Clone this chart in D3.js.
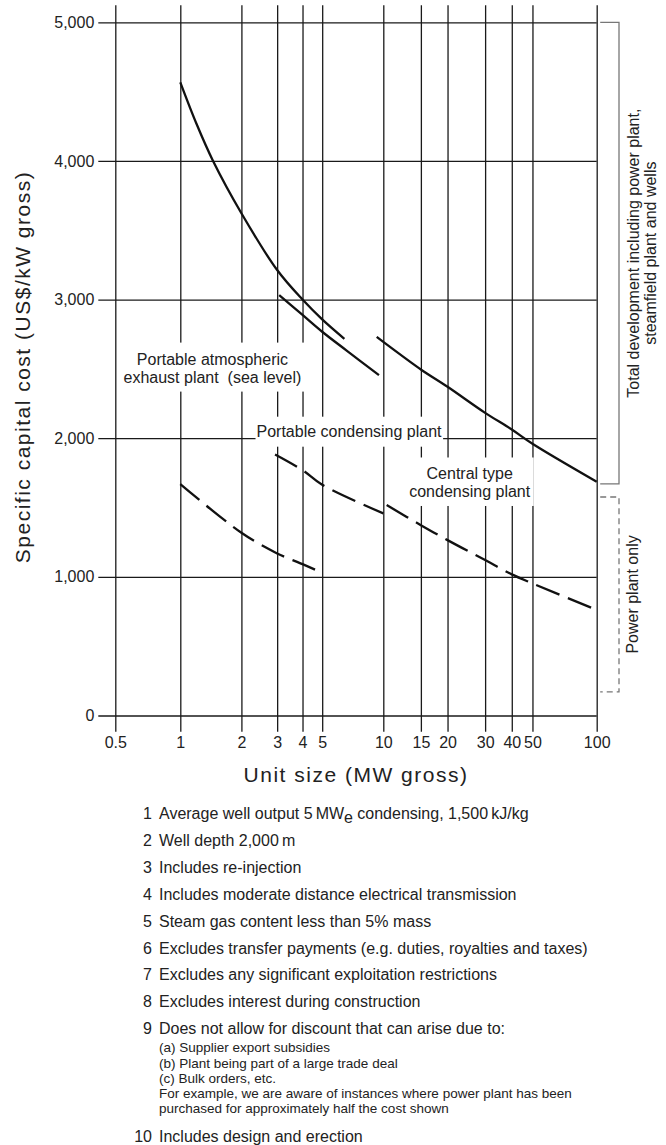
<!DOCTYPE html>
<html><head><meta charset="utf-8">
<script src="https://cdn.jsdelivr.net/npm/d3@7"></script>
<style>
body{margin:0;background:#fff}
svg{display:block}
text{font-family:"Liberation Sans",Arial,Helvetica,sans-serif;fill:#222}
</style>
</head><body>
<svg id="c" width="666" height="1145"></svg>
<script>
// ---------- data ----------
const xTicks = [0.5, 1, 2, 3, 4, 5, 10, 15, 20, 30, 40, 50, 100];
const yTicks = [0, 1000, 2000, 3000, 4000, 5000];

// solid = total development, dashed = power plant only  [MW, US$/kW]
const atmosTotal   = [[1,4567],[1.2,4270],[1.45,4000],[2,3623],[3,3213],[4,3000],[5,2857],[6.43,2717]];
const condTotal    = [[3.07,3032],[4,2889],[5,2768],[6.6,2632],[9.52,2455]];
const centralTotal = [[9.28,2731],[10,2695],[15,2496],[20,2371],[30,2183],[40,2063],[50,1960],[100,1686]];
const atmosPower   = [[1,1669],[2,1318],[3,1169],[4,1092],[4.61,1052]];
const condPower    = [[2.93,1883],[4,1770],[5,1664],[10,1458]];
const centralPower = [[10.37,1518],[15,1373],[20,1265],[30,1121],[40,1018],[50,953],[100,761]];

const curveLabels = [
  {x: 1.44, y: 2531, lines: ["Portable atmospheric", "exhaust plant  (sea level)"]},
  {x: 6.78, y: 2011, lines: ["Portable condensing plant"]},
  {x: 25.4, y: 1706, lines: ["Central type", "condensing plant"]}
];

const brackets = [
  {from: 5000, to: 1670, dashed: false, lines: ["Total development including power plant,", "steamfield plant and wells"]},
  {from: 1576, to: 170,  dashed: true,  lines: ["Power plant only"]}
];

const yTitle = "Specific capital cost (US$/kW gross)";
const xTitle = "Unit size (MW gross)";

const notes = [
  "Average well output 5\u2009MW_e condensing, 1,500\u2009kJ/kg",
  "Well depth 2,000\u2009m",
  "Includes re-injection",
  "Includes moderate distance electrical transmission",
  "Steam gas content less than 5% mass",
  "Excludes transfer payments (e.g. duties, royalties and taxes)",
  "Excludes any significant exploitation restrictions",
  "Excludes interest during construction",
  "Does not allow for discount that can arise due to:",
  "Includes design and erection"
];
const subNotes = [
  "(a) Supplier export subsidies",
  "(b) Plant being part of a large trade deal",
  "(c) Bulk orders, etc.",
  "For example, we are aware of instances where power plant has been",
  "purchased for approximately half the cost shown"
];

// ---------- scales ----------
const svg = d3.select("#c");
const x = d3.scaleLog().domain([0.5, 1, 10, 100]).range([115.3, 180.3, 383.3, 596.7]);
const y = d3.scaleLinear().domain([0, 5000]).range([715.5, 22.3]);

const gridTop = y(5000) - 17, gridBottom = y(0) + 16.2, gridLeft = x(0.5) - 17;
const gridColor = "#1a1a1a";

// x grid + labels
const xAxis = svg.append("g")
  .attr("transform", `translate(0,${gridBottom})`)
  .call(d3.axisBottom(x).tickValues(xTicks).tickFormat(d => String(d))
    .tickSize(-(gridBottom - gridTop)).tickPadding(5));
xAxis.select(".domain").remove();
xAxis.selectAll("line").attr("stroke", gridColor).attr("stroke-width", 1.3);
xAxis.selectAll("text").style("font-size", "16px").attr("fill", "#222")
  .style("font-family", '"Liberation Sans",Arial,sans-serif');

// y grid + labels
const yAxis = svg.append("g")
  .attr("transform", `translate(${gridLeft},0)`)
  .call(d3.axisLeft(y).tickValues(yTicks).tickFormat(d3.format(","))
    .tickSize(-(x(100) - gridLeft)).tickPadding(4));
yAxis.select(".domain").remove();
yAxis.selectAll("line").attr("stroke", gridColor).attr("stroke-width", 1.3);
yAxis.selectAll("text").style("font-size", "16px").attr("fill", "#222")
  .style("font-family", '"Liberation Sans",Arial,sans-serif');

// curve labels with white knockout boxes
const pads = [{l: 4, r: 8, t: 8, b: 6}, {l: 1, r: 1, t: 6, b: 7}, {l: 3, r: 3, t: 7.5, b: 6}];
curveLabels.forEach((lab, i) => {
  const g = svg.append("g");
  const rect = g.append("rect").attr("fill", "#fff");
  const t = g.append("text").attr("text-anchor", "middle").style("font-size", "16px")
    .attr("x", x(lab.x)).attr("y", y(lab.y)).attr("xml:space", "preserve");
  lab.lines.forEach((ln, j) => t.append("tspan").attr("x", x(lab.x)).attr("dy", j ? 18 : 0).text(ln));
  const bb = t.node().getBBox(), p = pads[i];
  rect.attr("x", bb.x - p.l).attr("y", bb.y - p.t)
      .attr("width", bb.width + p.l + p.r).attr("height", bb.height + p.t + p.b);
});

// curves
const line = d3.line().x(d => x(d[0])).y(d => y(d[1])).curve(d3.curveCatmullRom.alpha(0.5));
[atmosTotal, condTotal, centralTotal].forEach(s =>
  svg.append("path").attr("d", line(s)).attr("fill", "none")
    .attr("stroke", "#111").attr("stroke-width", 2.3));
[atmosPower, condPower, centralPower].forEach(s =>
  svg.append("path").attr("d", line(s)).attr("fill", "none")
    .attr("stroke", "#111").attr("stroke-width", 2.3).attr("stroke-dasharray", "25,9"));

// right brackets
const bx0 = x(100) + 3.5, bx1 = x(100) + 22.3;
const textX = [[639, 656], [638]];
brackets.forEach((b, i) => {
  svg.append("path")
    .attr("d", `M${bx0},${y(b.from)}H${bx1}V${y(b.to)}H${bx0}`)
    .attr("fill", "none").attr("stroke", "#777").attr("stroke-width", 1.3)
    .attr("stroke-dasharray", b.dashed ? "6,4" : null);
  const cy = (y(b.from) + y(b.to)) / 2;
  b.lines.forEach((ln, j) => {
    svg.append("text").attr("text-anchor", "middle").style("font-size", "16px")
      .attr("transform", `translate(${textX[i][j]},${cy}) rotate(-90)`).text(ln);
  });
});

// axis titles
svg.append("text").attr("text-anchor", "middle")
  .style("font-size", "21px").style("letter-spacing", "1.5px")
  .attr("transform", `translate(30,${367}) rotate(-90)`).text(yTitle);
svg.append("text").attr("text-anchor", "middle")
  .style("font-size", "21px").style("letter-spacing", "1.5px")
  .attr("x", (x(0.5) + x(100)) / 2).attr("y", 782).text(xTitle);

// notes
const numX = 152, txtX = 159;
let ny = 819;
notes.forEach((n, i) => {
  svg.append("text").attr("text-anchor", "end").style("font-size", "16px")
    .attr("x", numX).attr("y", ny).text(String(i + 1));
  const t = svg.append("text").style("font-size", "16px").attr("x", txtX).attr("y", ny);
  if (n.includes("_")) {
    const parts = n.split("_");
    t.append("tspan").text(parts[0]);
    t.append("tspan").attr("dy", 4).text(parts[1][0]);
    t.append("tspan").attr("dy", -4).text(parts[1].slice(1));
  } else t.text(n);
  if (i === 8) {
    let sy = ny + 18;
    subNotes.forEach((s, k) => {
      svg.append("text").style("font-size", "13.5px").attr("x", txtX).attr("y", sy).text(s);
      if (k < subNotes.length - 1) sy += 15.3;
    });
    ny = sy + 29;
  } else ny += 26.9;
});
</script>
</body></html>
